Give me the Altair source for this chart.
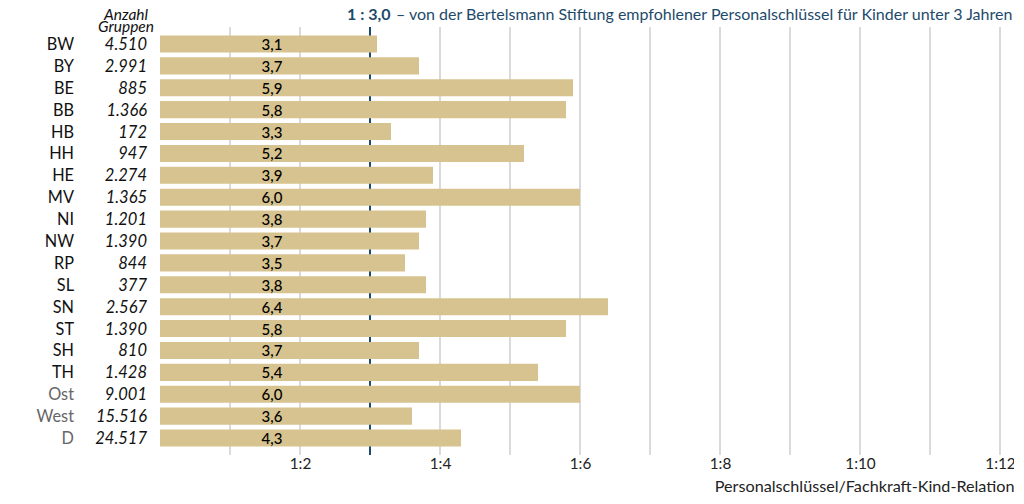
import altair as alt
import pandas as pd

states = ["BW", "BY", "BE", "BB", "HB", "HH", "HE", "MV", "NI", "NW", "RP", "SL",
          "SN", "ST", "SH", "TH", "Ost", "West", "D"]
groups = ["4.510", "2.991", "885", "1.366", "172", "947", "2.274", "1.365", "1.201",
          "1.390", "844", "377", "2.567", "1.390", "810", "1.428", "9.001", "15.516", "24.517"]
values = [3.1, 3.7, 5.9, 5.8, 3.3, 5.2, 3.9, 6.0, 3.8, 3.7, 3.5, 3.8,
          6.4, 5.8, 3.7, 5.4, 6.0, 3.6, 4.3]
kinds = ["land"] * 16 + ["agg"] * 3
grid_values = [1, 2, 4, 5, 6, 7, 8, 9, 10, 11, 12]
recommended = 3.0
tick_values = [2, 4, 6, 8, 10, 12]

df = pd.DataFrame({
    "state": states,
    "groups": groups,
    "value": values,
    "label": [f"{v:.1f}".replace(".", ",") for v in values],
    "kind": kinds,
})
grid_df = pd.DataFrame({"g": grid_values})
rec_df = pd.DataFrame({"r": [recommended]})

FONT = "Lato"
W, H = 854, 416

xscale = alt.Scale(domain=[0, 12.2], nice=False, zero=True)
yscale = alt.Scale(domain=states, paddingInner=0.22, paddingOuter=0.11)

grid = alt.Chart(grid_df).mark_rule(color="#b5b5b5", strokeWidth=1).encode(
    x=alt.X("g:Q", scale=xscale,
            axis=alt.Axis(values=tick_values, labelExpr="'1:' + datum.value",
                          domain=False, ticks=False, grid=False,
                          labelFontSize=15.3, labelFont=FONT, labelColor="#222",
                          labelPadding=7,
                          title="Personalschlüssel/Fachkraft-Kind-Relation",
                          titleFont=FONT, titleFontSize=16.2, titleFontWeight="normal",
                          titleColor="#222", titleAnchor="end", titleAlign="right",
                          titleX=W, titleY=42, titleBaseline="alphabetic")),
    y=alt.value(-6),
    y2=alt.value(H + 6),
)

rec = alt.Chart(rec_df).mark_rule(color="#1d4a6b", strokeWidth=2).encode(
    x=alt.X("r:Q", scale=xscale),
    y=alt.value(-6),
    y2=alt.value(H + 6),
)

base = alt.Chart(df)

bars = base.mark_bar(color="#d6c38f").encode(
    x=alt.X("value:Q", scale=xscale),
    x2=alt.datum(0),
    y=alt.Y("state:N", scale=yscale, axis=None, sort=states),
)

val_text = base.mark_text(font=FONT, fontSize=15, color="#000", align="center",
                          baseline="middle", dy=1, fontWeight=500).encode(
    x=alt.value(112),
    y=alt.Y("state:N", scale=yscale, sort=states),
    text="label:N",
)

state_text = base.mark_text(font=FONT, fontSize=16.3, align="right",
                            baseline="middle", dy=1).encode(
    x=alt.value(-86),
    y=alt.Y("state:N", scale=yscale, sort=states),
    text="state:N",
    color=alt.Color("kind:N", scale=alt.Scale(domain=["land", "agg"],
                                              range=["#111111", "#666666"]),
                    legend=None),
)

group_text = base.mark_text(font=FONT, fontSize=16.5, fontStyle="italic", align="right",
                            baseline="middle", color="#111", dy=1).encode(
    x=alt.value(-13),
    y=alt.Y("state:N", scale=yscale, sort=states),
    text="groups:N",
)

hdr = pd.DataFrame({"t": ["Anzahl", "Gruppen"], "yy": [-13, -1]})
header = alt.Chart(hdr).mark_text(font=FONT, fontSize=15.5, fontStyle="italic",
                                  align="center", baseline="alphabetic",
                                  color="#111").encode(
    x=alt.value(-34),
    y=alt.Y("yy:Q", scale=None),
    text="t:N",
)

ann_bold = alt.Chart(pd.DataFrame({"t": ["1 : 3,0"]})).mark_text(
    font=FONT, fontSize=16, fontWeight="bold", color="#1d4a6b",
    align="left", baseline="alphabetic").encode(
    x=alt.value(187), y=alt.value(-13), text="t:N")

ann_rest = alt.Chart(pd.DataFrame(
    {"t": ["– von der Bertelsmann Stiftung empfohlener Personalschlüssel für Kinder unter 3 Jahren"]}
)).mark_text(font=FONT, fontSize=16, color="#1d4a6b",
             align="left", baseline="alphabetic").encode(
    x=alt.value(236), y=alt.value(-13), text="t:N")

chart = alt.layer(grid, rec, bars, val_text, state_text, group_text, header,
                  ann_bold, ann_rest).properties(
    width=W, height=H,
    autosize=alt.AutoSizeParams(type="none"),
    padding={"left": 152, "top": 25, "right": 0, "bottom": 46},
).configure_view(stroke=None)

chart.save("out.html", embed_options={"renderer": "svg", "actions": False})
